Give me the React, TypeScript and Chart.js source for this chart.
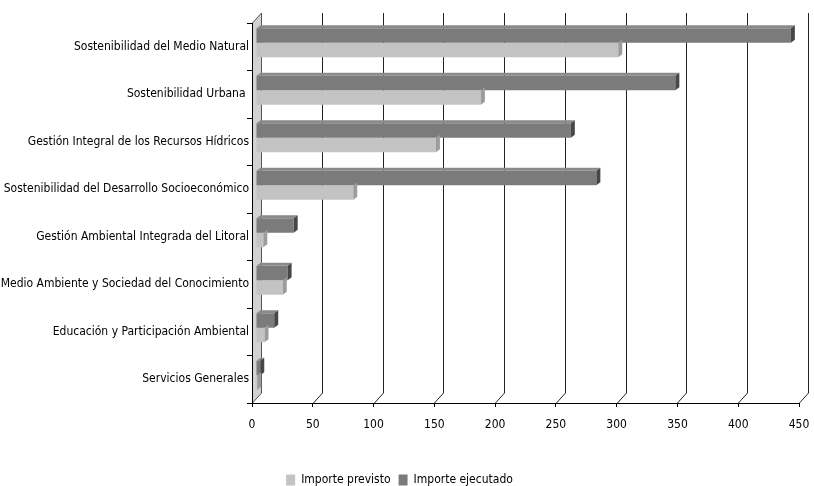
import React, { useEffect, useRef } from "react";
import { Chart, registerables } from "chart.js";

Chart.register(...registerables);

const categories = [
  "Sostenibilidad del Medio Natural",
  "Sostenibilidad Urbana ",
  "Gestión Integral de los Recursos Hídricos",
  "Sostenibilidad del Desarrollo Socioeconómico",
  "Gestión Ambiental Integrada del Litoral",
  "Medio Ambiente y Sociedad del Conocimiento",
  "Educación y Participación Ambiental",
  "Servicios Generales",
];
const importePrevisto = [298, 185, 148, 80, 6, 22, 7, 1];
const importeEjecutado = [440, 345, 259, 280, 31, 26, 15, 3.5];
const xMin = 0;
const xMax = 450;
const xStep = 50;

const FONT = { family: "'DejaVu Sans Condensed', 'Liberation Sans Narrow', sans-serif", size: 12 };

const DX = 4; // bar depth offset
const DY = 4;
const GX = 9; // wall depth
const GY = 10;
const FX = 4; // bar face depth
const FY = 3;

const threeD = {
  id: "threeD",
  beforeDatasetsDraw(chart: any) {
    const { ctx, chartArea: a } = chart;
    const x = chart.scales.x;
    const x0 = Math.round(x.getPixelForValue(0)) + 0.5;
    ctx.save();
    ctx.fillStyle = "#d2d2d2";
    ctx.strokeStyle = "#555";
    ctx.lineWidth = 1;
    ctx.beginPath();
    ctx.moveTo(x0, a.top);
    ctx.lineTo(x0 + GX, a.top - GY);
    ctx.lineTo(x0 + GX, a.bottom - GY);
    ctx.lineTo(x0, a.bottom);
    ctx.closePath();
    ctx.fill();
    ctx.stroke();
    ctx.strokeStyle = "#000";
    ctx.beginPath();
    ctx.moveTo(x0, a.top);
    ctx.lineTo(x0, a.bottom);
    ctx.stroke();
    ctx.strokeStyle = "#222";
    for (const t of x.ticks) {
      if (t.value === 0) continue;
      const px = Math.round(x.getPixelForValue(t.value)) + 0.5;
      ctx.beginPath();
      ctx.moveTo(px + GX, a.top - GY);
      ctx.lineTo(px + GX, a.bottom - GY);
      ctx.lineTo(px, a.bottom);
      ctx.stroke();
    }
    ctx.restore();
    ctx.save();
    ctx.translate(DX, -DY);
  },
  afterDatasetsDraw(chart: any) {
    const ctx = chart.ctx;
    chart.data.datasets.forEach((ds: any, i: number) => {
      const meta = chart.getDatasetMeta(i);
      meta.data.forEach((el: any) => {
        const { x: xe, y, base, height } = el.getProps(["x", "y", "base", "height"], true);
        const top = y - height / 2;
        const bot = y + height / 2;
        if (i === 0) {
          ctx.fillStyle = ds.topColor;
          ctx.beginPath();
          ctx.moveTo(base, top);
          ctx.lineTo(base + FX, top - FY);
          ctx.lineTo(xe + FX, top - FY);
          ctx.lineTo(xe, top);
          ctx.closePath();
          ctx.fill();
        }
        ctx.fillStyle = ds.sideColor;
        ctx.beginPath();
        ctx.moveTo(xe, top);
        ctx.lineTo(xe + FX, top - FY);
        ctx.lineTo(xe + FX, bot - FY);
        ctx.lineTo(xe, bot);
        ctx.closePath();
        ctx.fill();
      });
    });
    ctx.restore();
  },
};

export default function App() {
  const ref = useRef<HTMLCanvasElement>(null);
  useEffect(() => {
    if (!ref.current) return;
    const chart = new Chart(ref.current, {
      type: "bar",
      data: {
        labels: categories,
        datasets: [
          {
            label: "Importe ejecutado",
            data: importeEjecutado,
            backgroundColor: "#7b7b7b",
            topColor: "#8a8a8a",
            sideColor: "#474747",
            clip: false,
          } as any,
          {
            label: "Importe previsto",
            data: importePrevisto,
            backgroundColor: "#c3c3c3",
            topColor: "#b0b0b0",
            sideColor: "#9c9c9c",
            clip: false,
          } as any,
        ],
      },
      options: {
        indexAxis: "y",
        responsive: false,
        animation: false,
        layout: { padding: { top: 23, right: 15, left: 0, bottom: 0 } },
        datasets: { bar: { categoryPercentage: 0.61, barPercentage: 1 } },
        scales: {
          x: {
            type: "linear",
            min: xMin,
            max: xMax,
            ticks: { stepSize: xStep, color: "#000", font: FONT, padding: 11 },
            grid: { drawOnChartArea: false, drawTicks: true, tickLength: 4, color: "#000" },
            border: { display: true, color: "#000" },
            afterFit(s: any) {
              s.height = 63;
              s.paddingRight = 0;
              s.paddingLeft = 0;
            },
          },
          y: {
            ticks: { color: "#000", font: FONT, padding: -2, autoSkip: false },
            grid: { drawOnChartArea: false, offset: true, tickLength: 5, color: "#000" },
            border: { display: true, color: "#000" },
            afterFit(s: any) {
              s.width = 252;
            },
          },
        },
        plugins: {
          legend: {
            position: "bottom",
            reverse: true,
            labels: { boxWidth: 9, boxHeight: 11, font: FONT, color: "#000", padding: 8 },
          },
          tooltip: { enabled: false },
        },
      } as any,
      plugins: [threeD],
    });
    return () => chart.destroy();
  }, []);
  return (
    <div style={{ position: "fixed", left: 0, top: 0, width: 814, height: 486, overflow: "hidden", background: "#fff" }}>
      <canvas ref={ref} width={814} height={496} style={{ display: "block" }} />
    </div>
  );
}
